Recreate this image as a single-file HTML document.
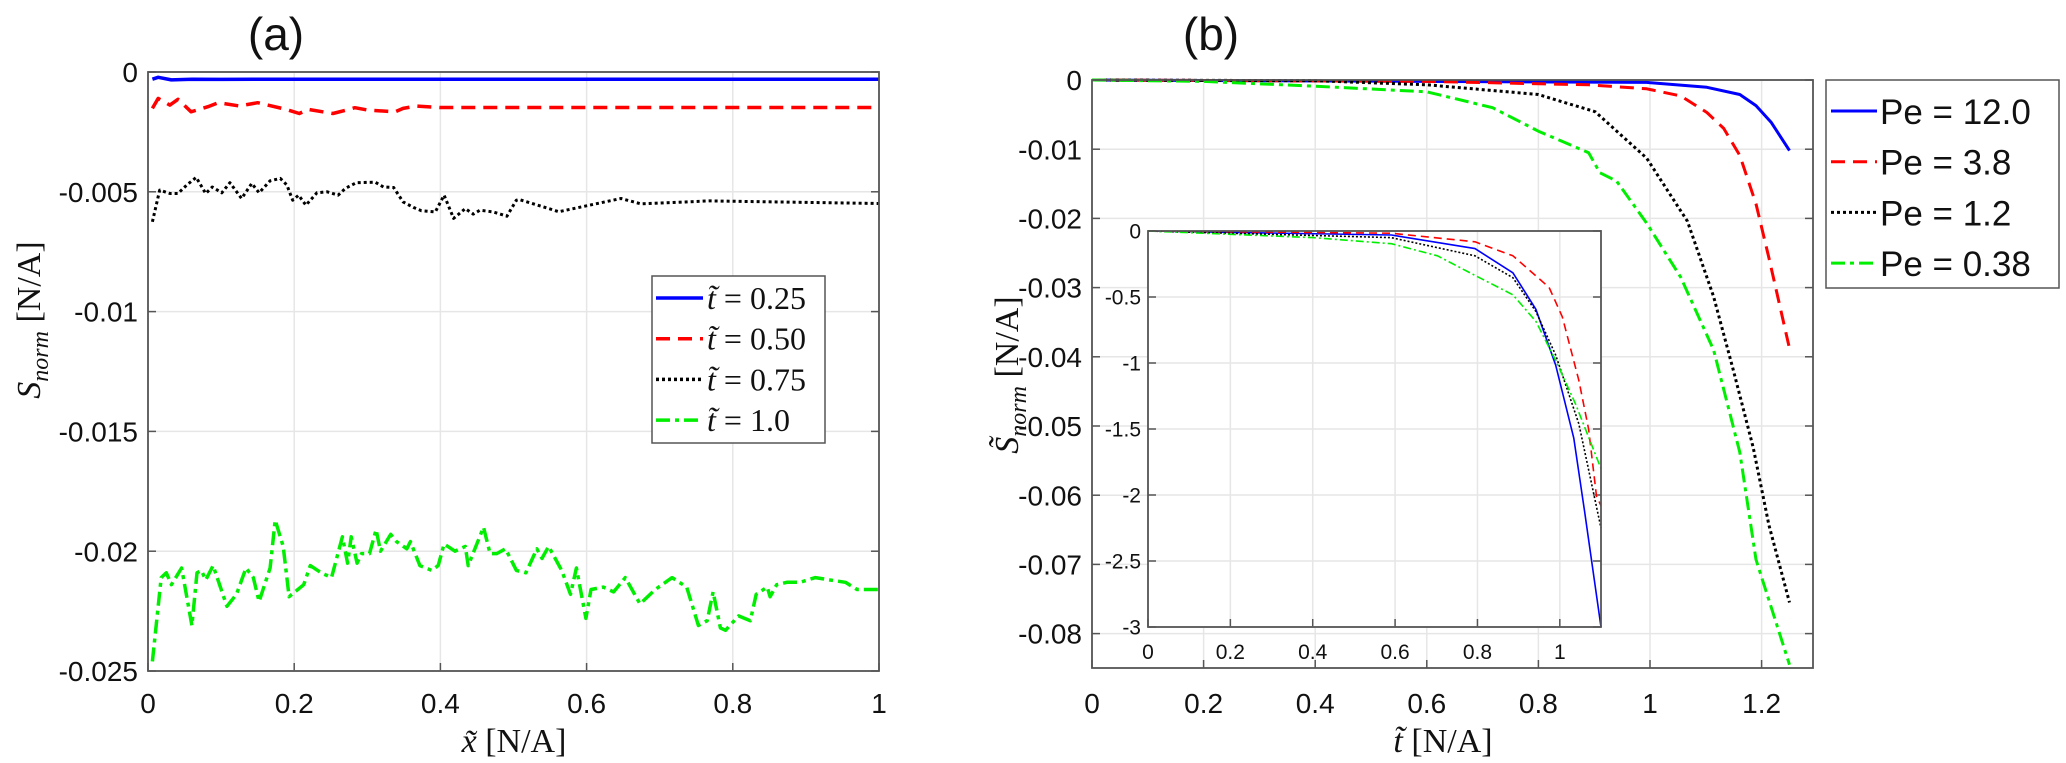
<!DOCTYPE html>
<html><head><meta charset="utf-8"><style>
html,body{margin:0;padding:0;background:#fff;}
svg{display:block;}
text{font-family:"Liberation Sans",sans-serif;fill:#111;}
.serif{font-family:"Liberation Serif",serif;}
</style></head><body>
<svg id="fig" width="2066" height="763" viewBox="0 0 2066 763" xmlns="http://www.w3.org/2000/svg">
<text x="276" y="50" font-size="46" text-anchor="middle">(a)</text>
<text x="1211" y="50" font-size="46" text-anchor="middle">(b)</text>
<g id="ga"></g>
<g id="gb"></g>
<g id="gi"></g>
<text class="serif" x="514" y="752" font-size="34" text-anchor="middle"><tspan font-style="italic">x̃</tspan> [N/A]</text>
<text class="serif" x="0" y="0" font-size="34" text-anchor="middle" transform="translate(40,320) rotate(-90)"><tspan font-style="italic">S</tspan><tspan font-style="italic" font-size="24" dy="8">norm</tspan><tspan dy="-8"> [N/A]</tspan></text>
<text class="serif" x="1443" y="752" font-size="34" text-anchor="middle"><tspan font-style="italic">t̃</tspan> [N/A]</text>
<text class="serif" x="0" y="0" font-size="34" text-anchor="middle" transform="translate(1018,375) rotate(-90)"><tspan font-style="italic">S̃</tspan><tspan font-style="italic" font-size="24" dy="8">norm</tspan><tspan dy="-8"> [N/A]</tspan></text>
</svg>
<script>
// ---- Panel (a) data ----
const aBlueX=[0.006,0.014,0.032,0.06,0.1,0.2,0.4,0.6,0.8,1.0];
const aBlueY=[-0.0003,-0.00022,-0.00033,-0.0003,-0.00031,-0.0003,-0.0003,-0.0003,-0.0003,-0.0003];
const aRedX=[0.006,0.014,0.030,0.041,0.059,0.082,0.096,0.125,0.150,0.189,0.207,0.219,0.253,0.271,0.283,0.301,0.338,0.349,0.367,0.399,0.445,1.0];
const aRedY=[-0.00152,-0.0011,-0.00138,-0.00114,-0.00166,-0.00145,-0.00128,-0.00142,-0.00128,-0.00156,-0.00173,-0.00156,-0.00173,-0.00159,-0.00149,-0.00159,-0.00166,-0.00152,-0.00142,-0.00148,-0.00148,-0.00148];
const aBlackX=[0.006,0.016,0.030,0.041,0.053,0.066,0.079,0.088,0.101,0.112,0.128,0.142,0.152,0.167,0.181,0.190,0.198,0.206,0.216,0.231,0.245,0.260,0.270,0.285,0.311,0.322,0.336,0.349,0.363,0.374,0.393,0.405,0.418,0.434,0.445,0.454,0.472,0.491,0.504,0.508,0.562,0.647,0.674,0.768,1.0];
const aBlackY=[-0.00625,-0.00493,-0.00507,-0.00507,-0.00472,-0.0044,-0.00507,-0.0048,-0.00504,-0.00462,-0.00528,-0.00465,-0.00504,-0.00454,-0.00444,-0.00472,-0.00535,-0.00514,-0.00556,-0.00504,-0.005,-0.00514,-0.00486,-0.00462,-0.0046,-0.0048,-0.00482,-0.00542,-0.00565,-0.00579,-0.00584,-0.00514,-0.00611,-0.0057,-0.00593,-0.00577,-0.00584,-0.00602,-0.00535,-0.00532,-0.00583,-0.00528,-0.0055,-0.00538,-0.00549];
const aGreenX=[0.006,0.018,0.025,0.032,0.046,0.060,0.067,0.073,0.079,0.089,0.108,0.121,0.134,0.144,0.152,0.167,0.174,0.185,0.193,0.213,0.222,0.237,0.251,0.266,0.273,0.278,0.286,0.292,0.303,0.312,0.318,0.332,0.340,0.354,0.359,0.372,0.388,0.397,0.405,0.420,0.434,0.438,0.459,0.468,0.477,0.489,0.504,0.517,0.532,0.539,0.548,0.566,0.578,0.586,0.599,0.606,0.623,0.637,0.653,0.673,0.694,0.717,0.737,0.753,0.765,0.773,0.783,0.790,0.808,0.824,0.832,0.847,0.851,0.860,0.874,0.892,0.913,0.933,0.954,0.970,1.0];
const aGreenY=[-0.0246,-0.0211,-0.0209,-0.0214,-0.0207,-0.0231,-0.0209,-0.0208,-0.0212,-0.0206,-0.0223,-0.0218,-0.0207,-0.0211,-0.0221,-0.0207,-0.0187,-0.0198,-0.0219,-0.0214,-0.0206,-0.0209,-0.0211,-0.0194,-0.0205,-0.0194,-0.0205,-0.0201,-0.0201,-0.0191,-0.0200,-0.0193,-0.0196,-0.0199,-0.0196,-0.0206,-0.0208,-0.0206,-0.0197,-0.0200,-0.0198,-0.0206,-0.0190,-0.0201,-0.0201,-0.0199,-0.0208,-0.0209,-0.0199,-0.0203,-0.0198,-0.0208,-0.0218,-0.0207,-0.0228,-0.0216,-0.0215,-0.0217,-0.0211,-0.0222,-0.0216,-0.0211,-0.0215,-0.0231,-0.0229,-0.0217,-0.0232,-0.0233,-0.0227,-0.0229,-0.0218,-0.0215,-0.0219,-0.0214,-0.0213,-0.0213,-0.0211,-0.0212,-0.0213,-0.0216,-0.0216];
const aXTicks=[0,0.2,0.4,0.6,0.8,1];
const aXTickLabels=["0","0.2","0.4","0.6","0.8","1"];
const aYTicks=[0,-0.005,-0.01,-0.015,-0.02,-0.025];
const aYTickLabels=["0","-0.005","-0.01","-0.015","-0.02","-0.025"];
const aLegend=["0.25","0.50","0.75","1.0"];
// ---- Panel (b) data ----
const bBlueX=[0,0.6,0.994,1.102,1.161,1.19,1.217,1.25];
const bBlueY=[0,-0.0002,-0.00035,-0.00105,-0.0021,-0.0037,-0.0061,-0.0102];
const bRedX=[0,0.6,0.89,0.994,1.055,1.102,1.132,1.161,1.19,1.213,1.25];
const bRedY=[0,-0.0002,-0.0007,-0.00127,-0.0023,-0.0047,-0.007,-0.0109,-0.0179,-0.0257,-0.0388];
const bBlackX=[0,0.4,0.6,0.8,0.902,0.994,1.067,1.114,1.149,1.185,1.213,1.25];
const bBlackY=[0,-0.0001,-0.0007,-0.0021,-0.0046,-0.0113,-0.0204,-0.0313,-0.0418,-0.0531,-0.0643,-0.0755];
const bGreenX=[0,0.2,0.4,0.55,0.6,0.718,0.8,0.89,0.91,0.94,0.994,1.055,1.114,1.161,1.19,1.25];
const bGreenY=[0,-0.0002,-0.0009,-0.0015,-0.0017,-0.004,-0.0074,-0.0105,-0.0134,-0.0146,-0.0207,-0.0285,-0.039,-0.0538,-0.0693,-0.0845];
const bXTicks=[0,0.2,0.4,0.6,0.8,1,1.2];
const bXTickLabels=["0","0.2","0.4","0.6","0.8","1","1.2"];
const bYTicks=[0,-0.01,-0.02,-0.03,-0.04,-0.05,-0.06,-0.07,-0.08];
const bYTickLabels=["0","-0.01","-0.02","-0.03","-0.04","-0.05","-0.06","-0.07","-0.08"];
const bLegend=["Pe = 12.0","Pe = 3.8","Pe = 1.2","Pe = 0.38"];
// ---- Inset data ----
const iBlueX=[0,0.591,0.794,0.886,0.942,0.99,1.034,1.06,1.1];
const iBlueY=[0,-0.03,-0.133,-0.317,-0.593,-1.017,-1.57,-2.12,-3.0];
const iRedX=[0,0.59,0.794,0.886,0.974,1.006,1.046,1.07,1.089,1.1];
const iRedY=[0,-0.017,-0.082,-0.188,-0.427,-0.65,-1.13,-1.5,-2.01,-2.08];
const iBlackX=[0,0.59,0.794,0.886,0.942,0.99,1.046,1.1];
const iBlackY=[0,-0.05,-0.188,-0.354,-0.61,-0.94,-1.46,-2.25];
const iGreenX=[0,0.4,0.591,0.703,0.794,0.886,0.942,0.99,1.038,1.1];
const iGreenY=[0,-0.05,-0.096,-0.188,-0.336,-0.483,-0.685,-0.98,-1.31,-1.8];
const iXTicks=[0,0.2,0.4,0.6,0.8,1];
const iXTickLabels=["0","0.2","0.4","0.6","0.8","1"];
const iYTicks=[0,-0.5,-1,-1.5,-2,-2.5,-3];
const iYTickLabels=["0","-0.5","-1","-1.5","-2","-2.5","-3"];

const NS="http://www.w3.org/2000/svg";
function mk(tag,parent,attrs){const e=document.createElementNS(NS,tag);for(const k in attrs)e.setAttribute(k,attrs[k]);parent.appendChild(e);return e;}
function axis(g,L,R,T,B,x0,x1,y0,y1){
  return {sx:v=>L+(v-x0)/(x1-x0)*(R-L), sy:v=>T+(y1-v)/(y1-y0)*(B-T)};
}
const styles={blue:{c:"#0000ff",d:""},red:{c:"#ff0000",d:"14,8"},black:{c:"#000",d:"3,3"},green:{c:"#00ee00",d:"14,5,4,5"}};
function line(g,ax,xs,ys,st,w,name){
  let d="";for(let i=0;i<xs.length;i++)d+=(i?"L":"M")+ax.sx(xs[i]).toFixed(1)+","+ax.sy(ys[i]).toFixed(1);
  const p=mk("path",g,{d:d,fill:"none",stroke:st.c,"stroke-width":w,"stroke-dasharray":st.d,"stroke-linejoin":"round"});
  
  
}
function frame(g,ax,L,R,T,B,xt,xl,yt,yl,fs,xly,ylx,pre){
  mk("rect",g,{x:L,y:T,width:R-L,height:B-T,fill:"#fff"});
  xt.forEach((v,i)=>{const x=ax.sx(v);mk("line",g,{x1:x,x2:x,y1:T,y2:B,stroke:"#e6e6e6","stroke-width":1.5});
    mk("line",g,{x1:x,x2:x,y1:B,y2:B-8,stroke:"#555","stroke-width":1.5});
    const t=mk("text",g,{x:x,y:xly,"font-size":fs,"text-anchor":"middle"});t.textContent=xl[i];
    
    });
  yt.forEach((v,i)=>{const y=ax.sy(v);mk("line",g,{x1:L,x2:R,y1:y,y2:y,stroke:"#e6e6e6","stroke-width":1.5});
    mk("line",g,{x1:L,x2:L+8,y1:y,y2:y,stroke:"#555","stroke-width":1.5});
    mk("line",g,{x1:R,x2:R-8,y1:y,y2:y,stroke:"#555","stroke-width":1.5});
    const t=mk("text",g,{x:ylx,y:y+fs*0.36,"font-size":fs,"text-anchor":"end"});t.textContent=yl[i];
    
    });
}
function border(g,L,R,T,B){mk("rect",g,{x:L,y:T,width:R-L,height:B-T,fill:"none",stroke:"#555","stroke-width":1.8});}

// Panel a
const ga=document.getElementById("ga");
const A={L:148,R:879,T:72,B:671};
const axA=axis(ga,A.L,A.R,A.T,A.B,0,1,-0.025,0);
frame(ga,axA,A.L,A.R,A.T,A.B,aXTicks,aXTickLabels,aYTicks,aYTickLabels,28,713,138,'panel-a-');
line(ga,axA,aBlueX,aBlueY,styles.blue,3.5,'series-t-0-25');
line(ga,axA,aRedX,aRedY,styles.red,3.5,'series-t-0-50');
line(ga,axA,aBlackX,aBlackY,styles.black,3,'series-t-0-75');
line(ga,axA,aGreenX,aGreenY,styles.green,3.5,'series-t-1-0');
border(ga,A.L,A.R,A.T,A.B);
// legend a
const lga=mk("g",ga,{});


mk("rect",lga,{x:652,y:276,width:173,height:167,fill:"#fff",stroke:"#555","stroke-width":1.5});
["blue","red","black","green"].forEach((k,i)=>{const y=298+i*40.7;
  mk("line",lga,{x1:656,x2:703,y1:y,y2:y,stroke:styles[k].c,"stroke-width":3.5,"stroke-dasharray":styles[k].d});
  const t=mk("text",lga,{x:707,y:y+11,"font-size":32,class:"serif"});
  
  
  const s1=mk("tspan",t,{"font-style":"italic"});s1.textContent="t̃";
  const s2=mk("tspan",t,{});s2.textContent=" = "+aLegend[i];
});

// Panel b
const gb=document.getElementById("gb");
const Bp={L:1092,R:1813,T:80,B:668};
const axB=axis(gb,Bp.L,Bp.R,Bp.T,Bp.B,0,(1813-1092)/558,-(668-80)/6920,0);
frame(gb,axB,Bp.L,Bp.R,Bp.T,Bp.B,bXTicks,bXTickLabels,bYTicks,bYTickLabels,28,713,1082,'panel-b-');
line(gb,axB,bBlueX,bBlueY,styles.blue,3,'series-pe-12');
line(gb,axB,bRedX,bRedY,styles.red,3,'series-pe-3-8');
line(gb,axB,bBlackX,bBlackY,styles.black,3,'series-pe-1-2');
line(gb,axB,bGreenX,bGreenY,styles.green,3,'series-pe-0-38');
border(gb,Bp.L,Bp.R,Bp.T,Bp.B);
const lgb=mk("g",gb,{});


mk("rect",lgb,{x:1826,y:80,width:233,height:208,fill:"#fff",stroke:"#555","stroke-width":1.5});
["blue","red","black","green"].forEach((k,i)=>{const y=111+i*50.7;
  mk("line",lgb,{x1:1831,x2:1877,y1:y,y2:y,stroke:styles[k].c,"stroke-width":3,"stroke-dasharray":styles[k].d});
  const t=mk("text",lgb,{x:1880,y:y+13,"font-size":35});t.textContent=bLegend[i];
  
  
});

// Inset
const gi=document.getElementById("gi");
const I={L:1148,R:1601,T:231,B:627};
const axI=axis(gi,I.L,I.R,I.T,I.B,0,1.1,-3,0);
frame(gi,axI,I.L,I.R,I.T,I.B,iXTicks,iXTickLabels,iYTicks,iYTickLabels,21,659,1141,'inset-');
line(gi,axI,iBlueX,iBlueY,styles.blue,1.6,'inset-series-pe-12');
line(gi,axI,iRedX,iRedY,{c:"#ff0000",d:"8,5"},1.6,'inset-series-pe-3-8');
line(gi,axI,iBlackX,iBlackY,{c:"#000",d:"2,2"},1.6,'inset-series-pe-1-2');
line(gi,axI,iGreenX,iGreenY,{c:"#00ee00",d:"8,3,2,3"},1.6,'inset-series-pe-0-38');
border(gi,I.L,I.R,I.T,I.B);
</script>
</body></html>
